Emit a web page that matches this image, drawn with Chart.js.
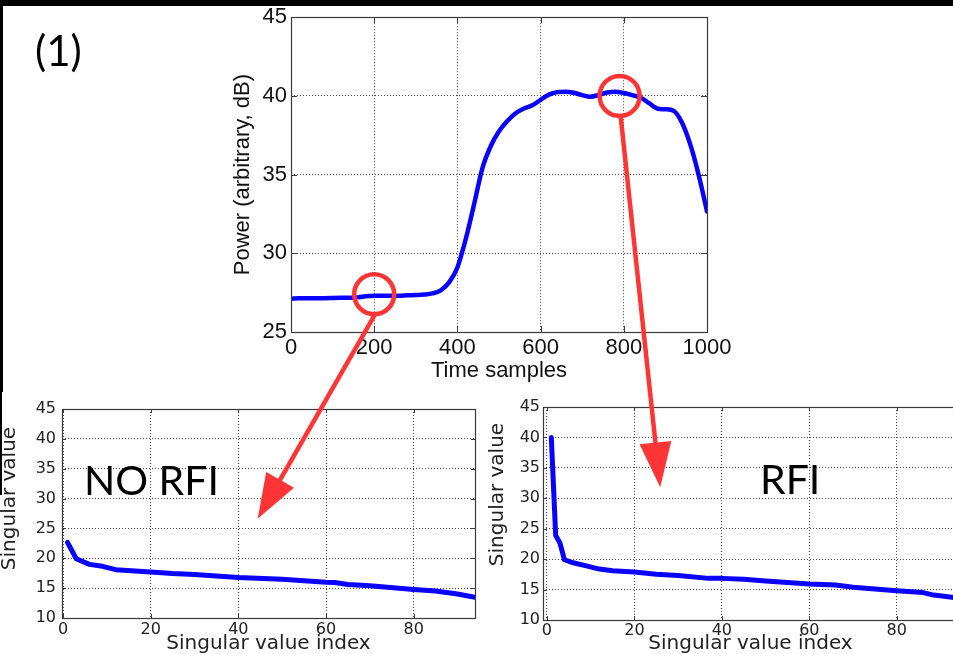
<!DOCTYPE html>
<html>
<head>
<meta charset="utf-8">
<script src="https://cdn.jsdelivr.net/npm/chart.js@4/dist/chart.umd.min.js"></script>
<style>
  html, body { margin: 0; padding: 0; background: #fff; overflow: hidden; width: 953px; height: 654px; }
  #stage { position: relative; width: 953px; height: 654px; overflow: hidden; background: #fff; }
  #stage canvas { position: absolute; }
  .note { position: absolute; font-family: Lato, "Open Sans", sans-serif; color: #000; white-space: nowrap; line-height: 42px; font-size: 41px; }
  .edge { position: absolute; background: #000; }
</style>
</head>
<body>
<div id="stage">
  <canvas id="power" width="520" height="390" style="left:220px;top:0px"></canvas>
  <canvas id="svQuiet" width="490" height="259" style="left:0px;top:395px"></canvas>
  <canvas id="svRfi" width="500" height="259" style="left:480px;top:395px"></canvas>
  <canvas id="marks" width="953" height="654" style="left:0px;top:0px"></canvas>
  <div class="note" style="left:35px;top:29px;font-size:42px">(1)</div>
  <div class="note" style="left:84px;top:459px">NO RFI</div>
  <div class="note" style="left:760px;top:458px">RFI</div>
  <div class="edge" style="left:0;top:0;width:953px;height:6px"></div>
  <div class="edge" style="left:0;top:0;width:3px;height:392px"></div>
  <div class="edge" style="left:0;top:392px;width:2px;height:103px"></div>
</div>
<script>
// Received power over time
const timeSamples = [0, 20, 40, 60, 80, 100, 120, 140, 160, 180, 200, 220, 240, 260, 280, 300,
  320, 340, 360, 380, 400, 420, 440, 460, 480, 500, 520, 540, 560, 580, 600, 620, 640, 660,
  680, 700, 720, 740, 760, 780, 800, 820, 840, 860, 880, 900, 920, 940, 960, 980, 1000];
const powerDb = [27.12, 27.14, 27.15, 27.15, 27.15, 27.16, 27.17, 27.18, 27.2, 27.27, 27.3, 27.3,
  27.31, 27.3, 27.33, 27.35, 27.38, 27.45, 27.65, 28.15, 29.1, 30.9, 33.1, 35.4, 36.8, 37.75,
  38.4, 38.9, 39.2, 39.4, 39.75, 40.08, 40.24, 40.27, 40.2, 40.05, 39.95, 40.06, 40.22, 40.27,
  40.18, 40.05, 39.9, 39.55, 39.2, 39.15, 39.05, 38.3, 36.9, 34.97, 32.66];
const timeTicks = [0, 200, 400, 600, 800, 1000];
const powerTicks = [25, 30, 35, 40, 45];

// Singular value spectra: quiet window and window with interference
const svIndexQuiet = [1, 3, 6, 9, 12, 20, 25, 30, 40, 50, 55, 60, 62, 65, 70, 80, 85, 90, 94];
const svQuiet = [22.67, 19.92, 18.98, 18.65, 18.1, 17.71, 17.44, 17.27, 16.78, 16.5, 16.22,
  16.0, 15.95, 15.62, 15.4, 14.79, 14.52, 14.02, 13.47];
const svIndexRfi = [1, 2, 3, 4, 6, 9, 12, 15, 20, 25, 30, 37, 40, 45, 50, 60, 66, 70, 80, 86, 88, 94];
const svRfi = [40.0, 23.9, 22.6, 19.9, 19.4, 18.9, 18.37, 18.1, 17.88, 17.5, 17.33, 16.84,
  16.84, 16.68, 16.4, 15.9, 15.75, 15.37, 14.82, 14.5, 14.16, 13.6];
const svIndexTicks = [0, 20, 40, 60, 80];
const svValueTicks = [10, 15, 20, 25, 30, 35, 40, 45];

// Annotation anchors, in each panel's data units
const quietSpot = { x: 200, y: 27.4 };
const rfiSpot = { x: 790, y: 40.0 };
const quietTip = { x: 44.4, y: 26.6 };
const rfiTip = { x: 25.9, y: 31.8 };

const pairs = (xs, ys) => xs.map((x, i) => ({ x, y: ys[i] }));

// Box around the plot area with inward tick marks
const framePlugin = {
  id: 'frame',
  afterDatasetsDraw(chart, args, opts) {
    const { ctx, chartArea: a, scales: { x, y } } = chart;
    const L = opts.tick;
    ctx.save();
    ctx.strokeStyle = opts.color;
    ctx.lineWidth = 1;
    ctx.setLineDash([]);
    ctx.beginPath();
    x.ticks.forEach(t => {
      const px = Math.round(x.getPixelForValue(t.value)) + 0.5;
      ctx.moveTo(px, a.bottom); ctx.lineTo(px, a.bottom - L);
      ctx.moveTo(px, a.top); ctx.lineTo(px, a.top + L);
    });
    y.ticks.forEach(t => {
      const py = Math.round(y.getPixelForValue(t.value)) + 0.5;
      ctx.moveTo(a.left, py); ctx.lineTo(a.left + L, py);
      ctx.moveTo(a.right, py); ctx.lineTo(a.right - L, py);
    });
    ctx.stroke();
    ctx.lineWidth = opts.width;
    ctx.strokeRect(Math.round(a.left) + 0.5, Math.round(a.top) + 0.5,
      Math.round(a.right - a.left), Math.round(a.bottom - a.top));
    ctx.restore();
  }
};

// Vertical axis caption that sits a little above the middle of the plot
const sideTitlePlugin = {
  id: 'sideTitle',
  afterDraw(chart, args, o) {
    if (!o.text) return;
    const { ctx, chartArea: a } = chart;
    ctx.save();
    ctx.translate(o.x, (a.top + a.bottom) / 2 - o.lift);
    ctx.rotate(-Math.PI / 2);
    ctx.font = o.font;
    ctx.fillStyle = o.color;
    ctx.textAlign = 'center';
    ctx.textBaseline = 'middle';
    ctx.fillText(o.text, 0, 0);
    ctx.restore();
  }
};

function makeChart(id, cfg) {
  const fixedTicks = vals => scale => { scale.ticks = vals.map(v => ({ value: v })); };
  const plain = v => String(v);
  return new Chart(document.getElementById(id), {
    type: 'line',
    data: { datasets: [{
      data: cfg.points,
      borderColor: '#0a00ff',
      borderWidth: cfg.lineWidth,
      pointRadius: 0,
      fill: false,
      tension: cfg.tension,
      cubicInterpolationMode: cfg.tension ? 'monotone' : 'default',
      borderCapStyle: 'round',
      borderJoinStyle: 'round'
    }] },
    options: {
      responsive: false,
      animation: false,
      events: [],
      layout: { padding: cfg.padding },
      plugins: { legend: { display: false }, tooltip: { enabled: false },
        frame: { color: '#3a3a3a', width: 1.2, tick: cfg.tickLen },
        sideTitle: cfg.sideTitle || {} },
      scales: {
        x: {
          type: 'linear', min: cfg.xMin, max: cfg.xMax,
          afterBuildTicks: fixedTicks(cfg.xTicks),
          afterFit: s => { s.height = cfg.xHeight; },
          grid: { color: '#4a4a4a', lineWidth: 1, drawTicks: false },
          border: { display: false, dash: [1, 2] },
          ticks: { color: cfg.textColor, font: cfg.tickFont, padding: cfg.xTickPad, maxRotation: 0,
            autoSkip: false, callback: plain },
          title: { display: true, text: cfg.xTitle, color: cfg.textColor, font: cfg.titleFont,
            padding: { top: 0, bottom: cfg.xTitlePad } }
        },
        y: {
          type: 'linear', min: cfg.yMin, max: cfg.yMax,
          afterBuildTicks: fixedTicks(cfg.yTicks),
          afterFit: s => { s.width = cfg.yWidth; },
          grid: { color: '#4a4a4a', lineWidth: 1, drawTicks: false },
          border: { display: false, dash: [1, 2] },
          ticks: { color: cfg.textColor, font: cfg.tickFont, padding: cfg.yTickPad, autoSkip: false,
            callback: plain },
          title: { display: !!cfg.yTitle, text: cfg.yTitle || '', color: cfg.textColor, font: cfg.titleFont,
            padding: { top: cfg.yTitlePad, bottom: 0 } }
        }
      }
    },
    plugins: [framePlugin, sideTitlePlugin]
  });
}

const powerChart = makeChart('power', {
  points: pairs(timeSamples, powerDb), lineWidth: 4.5, tension: 0.4,
  padding: { left: 0, right: 33, top: 14, bottom: 0 },
  xMin: 0, xMax: 1000, yMin: 25, yMax: 45, xTicks: timeTicks, yTicks: powerTicks,
  xHeight: 58, yWidth: 71, xTickPad: 3, yTickPad: 4, xTitlePad: 6, yTitlePad: 9.8,
  textColor: '#111', tickFont: { family: 'Liberation Sans', size: 22, lineHeight: 1.2 },
  titleFont: { family: 'Liberation Sans', size: 22, lineHeight: 1.2 },
  xTitle: 'Time samples', yTitle: 'Power (arbitrary, dB)', tickLen: 6
});

const svTitleFont = '20px "DejaVu Sans"';

const quietChart = makeChart('svQuiet', {
  points: pairs(svIndexQuiet, svQuiet), lineWidth: 5, tension: 0,
  padding: { left: 0, right: 15, top: 12, bottom: 0 },
  xMin: -0.25, xMax: 94, yMin: 10, yMax: 45, xTicks: svIndexTicks, yTicks: svValueTicks,
  xHeight: 36, yWidth: 62, xTickPad: 3.5, yTickPad: 6, xTitlePad: 0,
  textColor: '#222', tickFont: { family: 'DejaVu Sans', size: 16, lineHeight: 1 },
  titleFont: { family: 'DejaVu Sans', size: 20, lineHeight: 1 },
  xTitle: 'Singular value index', tickLen: 4,
  sideTitle: { text: 'Singular value', x: 10, lift: 15, font: svTitleFont, color: '#222' }
});

const rfiChart = makeChart('svRfi', {
  points: pairs(svIndexRfi, svRfi), lineWidth: 5, tension: 0,
  padding: { left: 0, right: 22, top: 12, bottom: 0 },
  xMin: -0.9, xMax: 94, yMin: 10, yMax: 45, xTicks: svIndexTicks, yTicks: svValueTicks,
  xHeight: 34, yWidth: 63, xTickPad: 2.5, yTickPad: 3, xTitlePad: 0,
  textColor: '#222', tickFont: { family: 'DejaVu Sans', size: 16, lineHeight: 1 },
  titleFont: { family: 'DejaVu Sans', size: 20, lineHeight: 1 },
  xTitle: 'Singular value index', tickLen: 4,
  sideTitle: { text: 'Singular value', x: 18, lift: 19, font: svTitleFont, color: '#222' }
});

// Red circles and arrows linking the two time windows to their spectra
function pagePoint(chart, p) {
  const c = chart.canvas;
  return {
    x: c.offsetLeft + chart.scales.x.getPixelForValue(p.x),
    y: c.offsetTop + chart.scales.y.getPixelForValue(p.y)
  };
}

function drawLinks() {
  const ctx = document.getElementById('marks').getContext('2d');
  const red = '#ff3535';
  const r = 20;
  ctx.strokeStyle = red;
  ctx.fillStyle = red;
  ctx.lineWidth = 4.5;
  const links = [
    [pagePoint(powerChart, quietSpot), pagePoint(quietChart, quietTip)],
    [pagePoint(powerChart, rfiSpot), pagePoint(rfiChart, rfiTip)]
  ];
  links.forEach(([c, tip]) => {
    ctx.beginPath();
    ctx.arc(c.x, c.y, r, 0, Math.PI * 2);
    ctx.stroke();
    const start = { x: c.x + 1, y: c.y + r };
    const dx = tip.x - start.x, dy = tip.y - start.y;
    const len = Math.hypot(dx, dy);
    const ux = dx / len, uy = dy / len;
    const headLen = 45, half = 16;
    const bx = tip.x - ux * headLen, by = tip.y - uy * headLen;
    ctx.beginPath();
    ctx.moveTo(start.x, start.y);
    ctx.lineTo(bx + ux * 2, by + uy * 2);
    ctx.stroke();
    ctx.beginPath();
    ctx.moveTo(tip.x, tip.y);
    ctx.lineTo(bx - uy * half, by + ux * half);
    ctx.lineTo(bx + uy * half, by - ux * half);
    ctx.closePath();
    ctx.fill();
  });
}
drawLinks();
</script>
</body>
</html>
